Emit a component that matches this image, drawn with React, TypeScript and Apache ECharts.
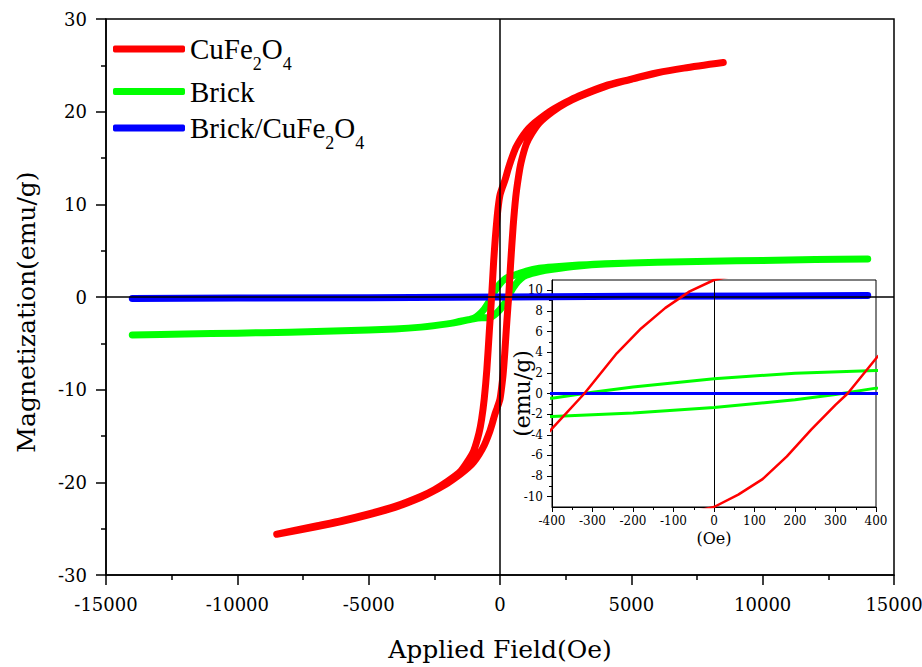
import React, { useEffect, useRef } from "react";
import * as echarts from "echarts";

// CuFe2O4 hysteresis loop: descending branch (from +H to -H)
const cuDescH = [8500, 7000, 6000, 5000, 4000, 3000, 2500, 2000, 1500, 1200, 1000, 800, 600, 400, 300, 200, 100, 0, -60, -120, -180, -240, -320, -400, -500, -600, -700, -800, -1000, -1200, -1500, -2000, -2500, -3000, -4000, -5000, -6000, -7000, -8500];
const cuDescM = [25.3, 24.7, 24.2, 23.5, 22.8, 21.7, 21.0, 20.2, 19.2, 18.5, 17.9, 17.1, 16.1, 14.6, 13.7, 12.7, 11.9, 11.0, 9.9, 8.3, 6.3, 3.9, 0, -3.4, -7.8, -11.0, -13.2, -14.7, -16.6, -17.6, -18.8, -19.9, -20.8, -21.5, -22.6, -23.4, -24.1, -24.7, -25.6];
// CuFe2O4 ascending branch (from -H to +H)
const cuAscH = [-8500, -7000, -6000, -5000, -4000, -3000, -2500, -2000, -1500, -1200, -1000, -800, -600, -400, -300, -200, -100, 0, 60, 120, 180, 240, 300, 330, 400, 500, 600, 700, 800, 1000, 1200, 1500, 2000, 2500, 3000, 4000, 5000, 6000, 7000, 8500];
const cuAscM = [-25.6, -24.8, -24.2, -23.5, -22.7, -21.6, -20.9, -20.1, -19.1, -18.4, -17.8, -17.0, -16.0, -14.6, -13.7, -12.7, -11.9, -11.0, -9.8, -8.3, -6.1, -3.5, -1.1, 0, 3.4, 7.6, 10.8, 12.9, 14.5, 16.5, 17.6, 18.8, 20.0, 20.9, 21.6, 22.7, 23.5, 24.2, 24.7, 25.3];

// Brick loop
const brDescH = [14000, 12000, 10000, 8000, 6000, 4000, 3000, 2000, 1500, 1000, 700, 400, 200, 0, -200, -300, -400, -600, -800, -1000, -1500, -2000, -3000, -4000, -6000, -8000, -10000, -12000, -14000];
const brDescM = [4.1, 4.05, 3.95, 3.85, 3.75, 3.6, 3.45, 3.25, 3.1, 2.8, 2.5, 2.23, 1.97, 1.42, 0.62, 0.12, -0.45, -1.3, -1.9, -2.3, -2.65, -2.9, -3.25, -3.45, -3.65, -3.8, -3.9, -4.0, -4.1];
const brAscH = [-14000, -12000, -10000, -8000, -6000, -4000, -3000, -2000, -1500, -1000, -700, -400, -200, 0, 200, 300, 400, 600, 800, 1000, 1500, 2000, 3000, 4000, 6000, 8000, 10000, 12000, 14000];
const brAscM = [-4.1, -4.0, -3.9, -3.8, -3.65, -3.45, -3.25, -2.9, -2.62, -2.35, -2.25, -2.23, -1.9, -1.36, -0.6, -0.1, 0.52, 1.4, 2.0, 2.35, 2.75, 3.0, 3.35, 3.55, 3.75, 3.85, 3.95, 4.05, 4.1];

// Brick/CuFe2O4
const bcH = [-14000, -10000, -5000, 0, 5000, 10000, 14000];
const bcM = [-0.15, -0.12, -0.07, 0, 0.07, 0.12, 0.15];

const seriesNames = ["CuFe2O4", "Brick", "Brick/CuFe2O4"];
const insetYTicks = [-10, -8, -6, -4, -2, 0, 2, 4, 6, 8, 10];
const insetYMinor = [-9, -7, -5, -3, -1, 1, 3, 5, 7, 9];

const FONT = "Liberation Serif";
const AXFONT = "DejaVu Serif";
const RED = "#ff0000";
const GREEN = "#00ff00";
const BLUE = "#0000ff";

const zip = (h: number[], m: number[]) => h.map((x, i) => [x, m[i]]);
const plain = (v: number) => String(v);

const legendRich = {
  a: { fontFamily: FONT, fontSize: 29, color: "#000", lineHeight: 30, verticalAlign: "middle" },
  s: { fontFamily: FONT, fontSize: 18, color: "#000", lineHeight: 18, verticalAlign: "top", padding: [21, 0, 0, 0] },
};
const legendFormatter = (name: string) => {
  if (name === "CuFe2O4") return "{a|CuFe}{s|2}{a|O}{s|4}";
  if (name === "Brick/CuFe2O4") return "{a|Brick/CuFe}{s|2}{a|O}{s|4}";
  return "{a|" + name + "}";
};

export default function App() {
  const ref = useRef<HTMLDivElement>(null);
  useEffect(() => {
    const chart = echarts.init(ref.current!, null, { renderer: "svg" });
    const cuData = [...zip(cuDescH, cuDescM), ...zip(cuAscH, cuAscM)];
    const brData = [...zip(brDescH, brDescM), ...zip(brAscH, brAscM)];
    const bcData = zip(bcH, bcM);

    const mkLegend = (name: string, top: number) => ({
      show: true,
      data: [name],
      left: 113,
      top,
      orient: "vertical",
      padding: 0,
      icon: "roundRect",
      itemWidth: 72,
      itemHeight: 7,
      selectedMode: false,
      formatter: legendFormatter,
      textStyle: { fontFamily: FONT, fontSize: 29, color: "#000", rich: legendRich },
    });

    const tickStyle = { color: "#000", width: 1.5 };
    const ts = (fontSize: number, lineHeight: number) => ({ fontFamily: AXFONT, fontSize, lineHeight, color: "#000", fontStyle: "normal", fontWeight: "normal" });

    const option: any = {
      animation: false,
      backgroundColor: "#fff",
      textStyle: { fontFamily: AXFONT },
      legend: [mkLegend(seriesNames[0], 34), mkLegend(seriesNames[1], 77), mkLegend(seriesNames[2], 113)],
      grid: [
        { left: 106, right: 28, top: 19, bottom: 92, show: true, borderColor: "#000", borderWidth: 1.5, backgroundColor: "transparent", outerBoundsMode: "none", containLabel: false },
        { left: 552, right: 46, top: 280, bottom: 160, show: true, borderColor: "#000", borderWidth: 1, backgroundColor: "transparent", outerBoundsMode: "none", containLabel: false },
      ],
      xAxis: [
        {
          gridIndex: 0,
          type: "value",
          min: -15000,
          max: 15000,
          interval: 5000,
          axisLine: { onZero: false, lineStyle: { color: "#000", width: 1.5 } },
          axisTick: { show: true, inside: false, length: 10, lineStyle: tickStyle },
          minorTick: { show: true, splitNumber: 2, length: 5, lineStyle: tickStyle },
          axisLabel: { ...ts(18, 18), margin: 20, formatter: plain, hideOverlap: false },
          splitLine: { show: false },
          name: "Applied Field(Oe)",
          nameLocation: "middle",
          nameGap: 62,
          nameMoveOverlap: false,
          nameTextStyle: ts(25, 25),
        },
        {
          gridIndex: 1,
          type: "value",
          min: -400,
          max: 400,
          interval: 100,
          axisLine: { onZero: false, lineStyle: { color: "#000", width: 1 } },
          axisTick: { show: true, inside: false, length: 5, lineStyle: { color: "#000", width: 1 } },
          minorTick: { show: true, splitNumber: 2, length: 3, lineStyle: { color: "#000", width: 1 } },
          axisLabel: { ...ts(12, 12), margin: 8, formatter: plain, hideOverlap: false },
          splitLine: { show: false },
          name: "(Oe)",
          nameLocation: "middle",
          nameGap: 23,
          nameMoveOverlap: false,
          nameTextStyle: ts(16, 16),
        },
      ],
      yAxis: [
        {
          gridIndex: 0,
          type: "value",
          min: -30,
          max: 30,
          interval: 10,
          axisLine: { onZero: false, lineStyle: { color: "#000", width: 1.5 } },
          axisTick: { show: true, inside: false, length: 10, lineStyle: tickStyle },
          minorTick: { show: true, splitNumber: 2, length: 5, lineStyle: tickStyle },
          axisLabel: { ...ts(18, 18), margin: 19, formatter: plain },
          splitLine: { show: false },
          name: "Magnetization(emu/g)",
          nameLocation: "middle",
          nameGap: 67,
          nameMoveOverlap: false,
          nameTextStyle: { ...ts(25, 25), padding: [0, 30, 0, 0] },
        },
        {
          gridIndex: 1,
          type: "value",
          position: "left",
          min: -11,
          max: 11,
          axisLine: { onZero: false, lineStyle: { color: "#000", width: 1 } },
          axisTick: { show: true, inside: false, length: 5, customValues: insetYTicks, lineStyle: { color: "#000", width: 1 } },
          axisLabel: { ...ts(12, 12), margin: 9, customValues: insetYTicks, formatter: plain },
          splitLine: { show: false },
          name: "(emu/g)",
          nameLocation: "middle",
          nameGap: 21,
          nameMoveOverlap: false,
          nameTextStyle: ts(22, 18),
        },
        {
          gridIndex: 1,
          type: "value",
          position: "left",
          min: -11,
          max: 11,
          axisLine: { show: false, onZero: false },
          axisTick: { show: true, inside: false, length: 3, customValues: insetYMinor, lineStyle: { color: "#000", width: 1 } },
          axisLabel: { show: false },
          splitLine: { show: false },
        },
      ],
      series: [
        {
          name: seriesNames[1],
          type: "line",
          xAxisIndex: 0,
          yAxisIndex: 0,
          data: brData,
          symbol: "none",
          showSymbol: false,
          smooth: 0.25,
          z: 2,
          itemStyle: { color: GREEN },
          lineStyle: { color: GREEN, width: 7, cap: "round", join: "round" },
          markLine: {
            silent: true,
            symbol: ["none", "none"],
            label: { show: false },
            lineStyle: { color: "#000", type: "solid", width: 1.5 },
            emphasis: { disabled: true },
            data: [{ xAxis: 0 }, { yAxis: 0 }],
          },
        },
        {
          name: seriesNames[2],
          type: "line",
          xAxisIndex: 0,
          yAxisIndex: 0,
          data: bcData,
          symbol: "none",
          showSymbol: false,
          z: 3,
          itemStyle: { color: BLUE },
          lineStyle: { color: BLUE, width: 7, cap: "round", join: "round" },
        },
        {
          name: seriesNames[0],
          type: "line",
          xAxisIndex: 0,
          yAxisIndex: 0,
          data: cuData,
          symbol: "none",
          showSymbol: false,
          smooth: 0.25,
          z: 4,
          itemStyle: { color: RED },
          lineStyle: { color: RED, width: 7, cap: "round", join: "round" },
        },
        {
          name: seriesNames[1],
          type: "line",
          xAxisIndex: 1,
          yAxisIndex: 1,
          data: brData,
          symbol: "none",
          showSymbol: false,
          z: 5,
          itemStyle: { color: GREEN },
          lineStyle: { color: GREEN, width: 3 },
          markLine: {
            silent: true,
            symbol: ["none", "none"],
            label: { show: false },
            lineStyle: { color: "#000", type: "solid", width: 1 },
            emphasis: { disabled: true },
            data: [{ xAxis: 0 }],
          },
        },
        {
          name: seriesNames[2],
          type: "line",
          xAxisIndex: 1,
          yAxisIndex: 1,
          data: bcData,
          symbol: "none",
          showSymbol: false,
          z: 6,
          itemStyle: { color: BLUE },
          lineStyle: { color: BLUE, width: 3 },
        },
        {
          name: seriesNames[0],
          type: "line",
          xAxisIndex: 1,
          yAxisIndex: 1,
          data: cuData,
          symbol: "none",
          showSymbol: false,
          z: 7,
          itemStyle: { color: RED },
          lineStyle: { color: RED, width: 2.5 },
        },
      ],
    };
    chart.setOption(option);
    return () => chart.dispose();
  }, []);
  return <div ref={ref} style={{ position: "absolute", left: 0, top: 0, width: 922, height: 667 }} />;
}
